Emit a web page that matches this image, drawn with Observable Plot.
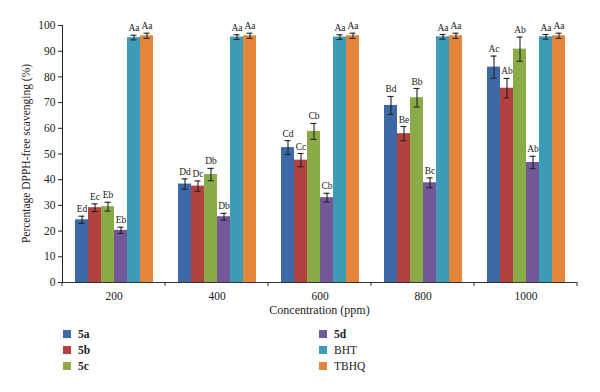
<!DOCTYPE html>
<html>
<head>
<meta charset="utf-8">
<script src="https://cdn.jsdelivr.net/npm/d3@7"></script>
<script src="https://cdn.jsdelivr.net/npm/@observablehq/plot@0.6"></script>
<style>
  html, body { margin: 0; padding: 0; background: #fff; }
  body { width: 600px; height: 392px; overflow: hidden; font-family: "Liberation Serif", "DejaVu Serif", serif; }
  #legend { position: relative; height: 70px; font-size: 11.5px; color: #222; }
  .item { position: absolute; display: flex; align-items: center; line-height: 12px; }
  .sw { width: 8px; height: 8px; margin-right: 7px; }
</style>
</head>
<body>
<div id="chart"></div>
<div id="legend"></div>
<script>
const concentrations = ["200", "400", "600", "800", "1000"];
const series = ["5a", "5b", "5c", "5d", "BHT", "TBHQ"];
const colors = ["#3d69a9", "#b3423f", "#8aab48", "#725799", "#3d9cb8", "#e3853b"];
const boldSeries = ["5a", "5b", "5c", "5d"];

// values per series across concentrations
const v5a  = [24.4, 38.3, 52.5, 68.9, 83.8];
const v5b  = [29.1, 37.5, 47.6, 57.9, 75.6];
const v5c  = [29.5, 42.0, 58.8, 71.9, 90.8];
const v5d  = [20.3, 25.6, 33.0, 38.8, 46.7];
const vBHT = [95.3, 95.5, 95.5, 95.6, 95.6];
const vTBHQ = [96.0, 96.0, 96.0, 96.0, 96.0];

// error bar half-lengths
const e5a  = [1.4, 2.0, 2.7, 3.5, 4.3];
const e5b  = [1.5, 2.0, 2.6, 2.8, 3.8];
const e5c  = [1.7, 2.4, 3.1, 3.6, 4.7];
const e5d  = [1.2, 1.3, 1.7, 1.9, 2.4];
const eBHT = [0.9, 0.9, 0.9, 0.9, 0.9];
const eTBHQ = [1.0, 1.0, 1.0, 1.0, 1.0];

// significance letters
const l5a  = ["Ed", "Dd", "Cd", "Bd", "Ac"];
const l5b  = ["Ec", "Dc", "Cc", "Be", "Ab"];
const l5c  = ["Eb", "Db", "Cb", "Bb", "Ab"];
const l5d  = ["Eb", "Db", "Cb", "Bc", "Ab"];
const lBHT = ["Aa", "Aa", "Aa", "Aa", "Aa"];
const lTBHQ = ["Aa", "Aa", "Aa", "Aa", "Aa"];

const yTicks = [0, 10, 20, 30, 40, 50, 60, 70, 80, 90, 100];

const valueSets = [v5a, v5b, v5c, v5d, vBHT, vTBHQ];
const errorSets = [e5a, e5b, e5c, e5d, eBHT, eTBHQ];
const letterSets = [l5a, l5b, l5c, l5d, lBHT, lTBHQ];

const rows = [];
series.forEach((s, i) => {
  concentrations.forEach((c, j) => {
    const v = valueSets[i][j], e = errorSets[i][j];
    rows.push({series: s, conc: c, value: v, lo: v - e, hi: v + e, letter: letterSets[i][j]});
  });
});

const plot = Plot.plot({
  width: 600,
  height: 322,
  marginLeft: 61,
  marginRight: 22,
  marginTop: 25,
  marginBottom: 40,
  style: {fontFamily: "'Liberation Serif', 'DejaVu Serif', serif", fontSize: "11.5px", color: "#222", background: "#fff"},
  fx: {domain: concentrations, padding: 0, label: null, tickSize: 0, tickPadding: 9},
  x: {domain: series, paddingInner: 0, paddingOuter: 0.78, axis: null},
  y: {domain: [0, 100], ticks: yTicks, tickSize: 4, tickPadding: 3, line: true, label: null},
  color: {domain: series, range: colors},
  marks: [
    Plot.barY(rows, {fx: "conc", x: "series", y: "value", fill: "series"}),
    Plot.ruleX(rows, {fx: "conc", x: "series", y1: "lo", y2: "hi", stroke: "#222", strokeWidth: 1.1}),
    Plot.tickY(rows, {fx: "conc", x: "series", y: "lo", stroke: "#222", strokeWidth: 1.1, insetLeft: 3.5, insetRight: 3.5}),
    Plot.tickY(rows, {fx: "conc", x: "series", y: "hi", stroke: "#222", strokeWidth: 1.1, insetLeft: 3.5, insetRight: 3.5}),
    Plot.text(rows, {fx: "conc", x: "series", y: "hi", text: "letter", dy: -7, fontSize: 9.5, fill: "#222"}),
    Plot.ruleY([0], {stroke: "#333"})
  ]
});

document.getElementById("chart").appendChild(plot);

// boundary ticks on the category axis and titles, positioned from the plot's own scales
const svg = d3.select(plot);
const fx = plot.scale("fx");
const y = plot.scale("y");
const y0 = y.apply(0);
const bounds = concentrations.map(c => fx.apply(c)).concat([fx.apply(concentrations[concentrations.length - 1]) + fx.bandwidth]);
svg.append("g").attr("stroke", "#333")
  .selectAll("line").data(bounds).join("line")
  .attr("x1", d => d).attr("x2", d => d)
  .attr("y1", y0).attr("y2", y0 + 4);

const xMid = (bounds[0] + bounds[bounds.length - 1]) / 2;
svg.append("text")
  .attr("x", xMid).attr("y", y0 + 29)
  .attr("text-anchor", "middle").attr("dominant-baseline", "middle")
  .attr("font-size", 12).attr("fill", "#222")
  .text("Concentration (ppm)");

const yMid = (y.apply(0) + y.apply(100)) / 2;
svg.append("text")
  .attr("transform", `translate(27,${yMid}) rotate(-90)`)
  .attr("text-anchor", "middle").attr("dominant-baseline", "middle")
  .attr("font-size", 11.5).attr("fill", "#222")
  .text("Percentage DPPH-free scavenging (%)");

// legend
const legend = d3.select("#legend");
const colLeft = [63, 319];
const rowTop = [6, 22, 38];
series.forEach((s, i) => {
  const col = Math.floor(i / 3), row = i % 3;
  const item = legend.append("div").attr("class", "item")
    .style("left", colLeft[col] + "px").style("top", rowTop[row] + "px");
  item.append("div").attr("class", "sw").style("background", colors[i]);
  item.append("span").style("font-weight", boldSeries.includes(s) ? "bold" : "normal").text(s);
});
</script>
</body>
</html>
